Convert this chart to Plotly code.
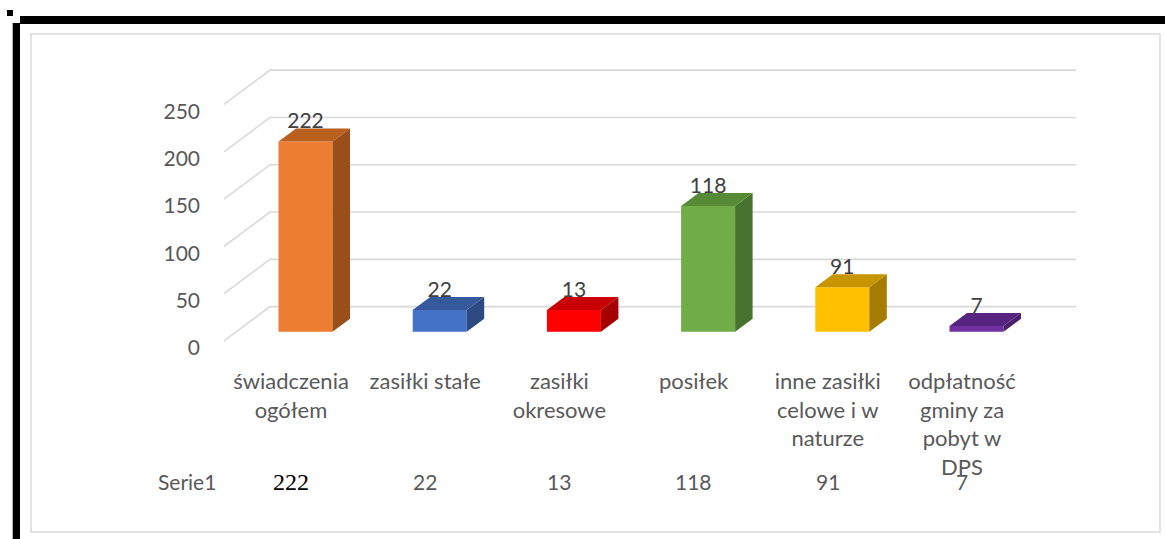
import plotly.graph_objects as go

# ---------------- data ----------------
categories = ["świadczenia<br>ogółem", "zasiłki stałe", "zasiłki<br>okresowe",
              "posiłek", "inne zasiłki<br>celowe i w<br>naturze",
              "odpłatność<br>gminy za<br>pobyt w<br>DPS"]
label_values = [222, 22, 13, 118, 91, 7]          # data labels / data table
bar_heights = [201, 23, 23, 133, 47, 6]           # bar heights as drawn in the picture
series_name = "Serie1"
tick_values = [0, 50, 100, 150, 200, 250]

front_colors = ["#ED7D31", "#4472C4", "#FF0000", "#70AD47", "#FFC000", "#7030A0"]
top_colors = ["#B9601F", "#36599C", "#C80000", "#568A36", "#C79500", "#57247F"]
side_colors = ["#9A4E1A", "#2D4A82", "#A50000", "#477230", "#A67C00", "#4A1E6B"]

# ---------------- geometry (pixel calibration) ----------------
W, H = 1165, 539
PX_PER_CAT = 134.2
X0_PX = 305.5            # pixel of first bar centre
PX_PER_UNIT = 0.946
Y0_PX = 331.7            # pixel of value 0 at bar front
xr = [-X0_PX / PX_PER_CAT, (W - X0_PX) / PX_PER_CAT]
yr = [(Y0_PX - H) / PX_PER_UNIT, Y0_PX / PX_PER_UNIT]
bw = 54 / PX_PER_CAT
ddx = 17.5 / PX_PER_CAT
ddy = 13 / PX_PER_UNIT

def px_x(p):
    return (p - X0_PX) / PX_PER_CAT

def px_y(p):
    return (Y0_PX - p) / PX_PER_UNIT

grid_front_x, grid_back_x, grid_end_x = px_x(224), px_x(270), px_x(1076)
grid_front_dy, grid_back_dy = -9.8, 26.5
label_shift = px_y(348)  # value-axis label for 0 sits at pixel 348

xi = list(range(len(categories)))
fig = go.Figure()

# gridlines as shapes below the traces
shapes = []
for g in tick_values:
    path = (f"M {grid_front_x},{g + grid_front_dy} L {grid_back_x},{g + grid_back_dy} "
            f"L {grid_end_x},{g + grid_back_dy}")
    shapes.append(dict(type="path", xref="x", yref="y", path=path, layer="below",
                       line=dict(color="#D9D9D9", width=1.6)))

# bar front faces
fig.add_trace(go.Bar(x=xi, y=bar_heights, width=bw, marker=dict(color=front_colors, line=dict(width=0)),
                     showlegend=False, hoverinfo="skip"))

# top and side faces
for i, h in enumerate(bar_heights):
    l, r = i - bw / 2, i + bw / 2
    fig.add_trace(go.Scatter(
        x=[r, r + ddx, r + ddx, r, r], y=[0, ddy, h + ddy, h, 0],
        fill="toself", fillcolor=side_colors[i], mode="lines", line=dict(width=0, color=side_colors[i]),
        hoverinfo="skip", showlegend=False))
    fig.add_trace(go.Scatter(
        x=[l, r, r + ddx, l + ddx, l], y=[h, h, h + ddy, h + ddy, h],
        fill="toself", fillcolor=top_colors[i], mode="lines", line=dict(width=0, color=top_colors[i]),
        hoverinfo="skip", showlegend=False))

# data labels
lab_off = -5 / PX_PER_UNIT
fig.add_trace(go.Scatter(
    x=xi, y=[h + ddy + lab_off for h in bar_heights], mode="text",
    text=[str(v) for v in label_values], textposition="top center",
    textfont=dict(family="Lato", size=21, color="#404040"),
    hoverinfo="skip", showlegend=False))

# invisible trace to activate the value axis (y2) carrying the tick labels
fig.add_trace(go.Scatter(x=[xr[0]], y=[0], yaxis="y2", mode="markers",
                         marker=dict(opacity=0), hoverinfo="skip", showlegend=False))

# data table row
table_y = px_y(481.7)
col_shift = -14.5 / PX_PER_CAT
fig.add_annotation(x=px_x(187), y=table_y, text=series_name, showarrow=False,
                   font=dict(family="Lato", size=21, color="#595959"))
for i, v in enumerate(label_values):
    if i == 0:
        f = dict(family="Liberation Serif", size=24, color="#000000")
    else:
        f = dict(family="Lato", size=21, color="#595959")
    fig.add_annotation(x=i + col_shift, y=table_y, text=str(v), showarrow=False, font=f)

shapes += [
    dict(type="rect", xref="paper", yref="paper", x0=31 / W, x1=1160 / W,
         y0=1 - 532 / H, y1=1 - 34 / H, line=dict(color="#D9D9D9", width=1.5), layer="below"),
    dict(type="rect", xref="paper", yref="paper", x0=20 / W, x1=1,
         y0=1 - 24 / H, y1=1 - 16 / H, fillcolor="black", line=dict(width=0)),
    dict(type="rect", xref="paper", yref="paper", x0=12.7 / W, x1=20 / W,
         y0=0, y1=1 - 23 / H, fillcolor="black", line=dict(width=0)),
    dict(type="rect", xref="paper", yref="paper", x0=7 / W, x1=13 / W,
         y0=1 - 16 / H, y1=1 - 10 / H, fillcolor="black", line=dict(width=0)),
]

fig.update_layout(
    width=W, height=H, margin=dict(l=0, r=0, t=0, b=0),
    paper_bgcolor="white", plot_bgcolor="white",
    font=dict(family="Lato", size=21, color="#595959"),
    xaxis=dict(range=xr, showgrid=False, zeroline=False, showline=False,
               tickvals=[i + col_shift for i in xi], ticktext=categories,
               ticks="", anchor="free", position=1 - 366 / H,
               tickfont=dict(family="Lato", size=22, color="#595959")),
    yaxis=dict(range=yr, visible=False, showgrid=False, zeroline=False),
    yaxis2=dict(range=[yr[0] - label_shift, yr[1] - label_shift], overlaying="y",
                anchor="free", position=200 / W, side="left",
                tickvals=tick_values, ticks="", showgrid=False, zeroline=False, showline=False,
                tickfont=dict(family="Lato", size=21, color="#595959")),
    shapes=shapes,
)

fig.write_html("out.html", config={"displayModeBar": False},
               post_script="document.body.style.margin='0';")
